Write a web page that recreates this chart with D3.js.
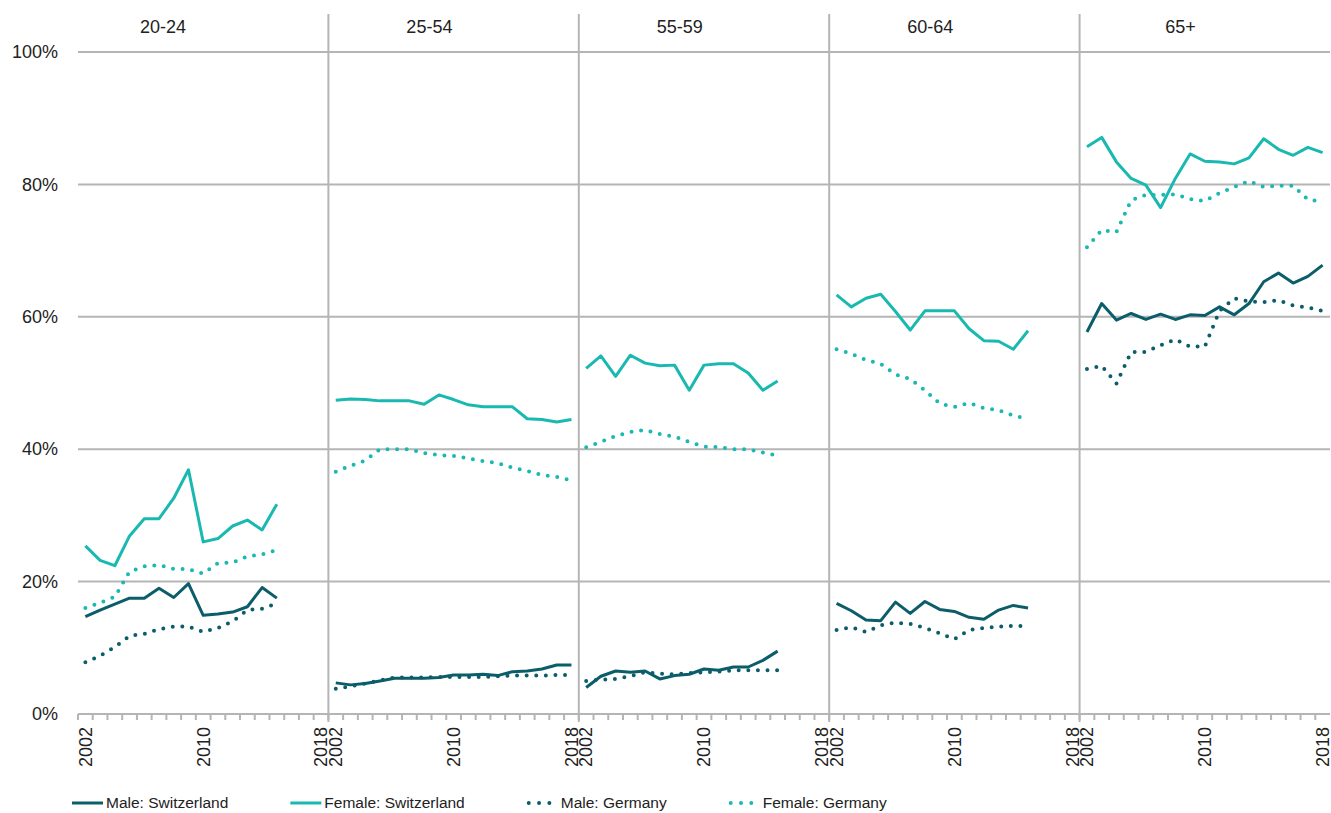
<!DOCTYPE html>
<html>
<head>
<meta charset="utf-8">
<script src="https://cdn.jsdelivr.net/npm/d3@7"></script>
<style>
  html, body { margin: 0; padding: 0; background: #fff; }
  svg { display: block; font-family: "Liberation Sans", Arial, sans-serif; }
</style>
</head>
<body>
<svg id="chart" width="1331" height="813"></svg>
<script>
// ---------- DATA ----------
const groups = ["20-24", "25-54", "55-59", "60-64", "65+"];
const years = d3.range(2002, 2019).map(String);
const yearLabels = ["2002", "2010", "2018"];
const yTicks = [0, 20, 40, 60, 80, 100];
const seriesNames = ["Male: Switzerland", "Female: Switzerland", "Male: Germany", "Female: Germany"];

// values in %, starting at 2002, one array per group
const maleCH = [
  [14.7, 15.7, 16.6, 17.5, 17.5, 19.0, 17.6, 19.7, 14.9, 15.1, 15.4, 16.2, 19.1, 17.5],
  [4.7, 4.4, 4.6, 5.0, 5.4, 5.4, 5.4, 5.5, 5.9, 5.9, 6.0, 5.8, 6.4, 6.5, 6.8, 7.4, 7.4],
  [4.0, 5.7, 6.5, 6.3, 6.5, 5.3, 5.8, 6.0, 6.8, 6.6, 7.1, 7.1, 8.1, 9.5],
  [16.7, 15.6, 14.2, 14.1, 16.9, 15.2, 17.0, 15.8, 15.5, 14.6, 14.3, 15.7, 16.4, 16.0],
  [57.7, 62.0, 59.5, 60.5, 59.6, 60.4, 59.6, 60.3, 60.2, 61.5, 60.3, 62.0, 65.3, 66.6, 65.1, 66.1, 67.8]
];
const femaleCH = [
  [25.4, 23.2, 22.4, 26.9, 29.5, 29.5, 32.6, 36.9, 26.0, 26.5, 28.4, 29.3, 27.8, 31.7],
  [47.4, 47.6, 47.5, 47.3, 47.3, 47.3, 46.8, 48.2, 47.5, 46.7, 46.4, 46.4, 46.4, 44.6, 44.5, 44.1, 44.5],
  [52.2, 54.1, 51.0, 54.2, 53.0, 52.6, 52.7, 48.9, 52.7, 52.9, 52.9, 51.5, 48.9, 50.3],
  [63.3, 61.5, 62.8, 63.4, 60.8, 58.0, 60.9, 60.9, 60.9, 58.2, 56.4, 56.3, 55.1, 57.9],
  [85.7, 87.1, 83.4, 80.9, 79.9, 76.5, 80.9, 84.6, 83.5, 83.4, 83.1, 84.0, 86.9, 85.3, 84.4, 85.6, 84.8]
];
const maleDE = [
  [7.8, 8.8, 10.1, 11.8, 12.1, 12.8, 13.2, 13.2, 12.4, 13.0, 14.0, 15.7, 15.9, 16.7],
  [3.8, 4.2, 4.6, 5.1, 5.5, 5.5, 5.5, 5.6, 5.6, 5.6, 5.6, 5.7, 5.8, 5.8, 5.8, 5.9, 5.9],
  [5.0, 5.2, 5.3, 5.7, 6.3, 6.1, 6.0, 6.2, 6.3, 6.4, 6.6, 6.6, 6.6, 6.6],
  [12.7, 13.1, 12.4, 13.4, 13.8, 13.6, 13.0, 12.2, 11.3, 12.7, 13.0, 13.2, 13.3, 13.3],
  [52.1, 52.6, 49.9, 54.7, 54.7, 55.7, 56.6, 55.5, 55.5, 60.9, 62.8, 62.3, 62.2, 62.5, 61.7, 61.4, 60.9]
];
const femaleDE = [
  [16.0, 16.8, 17.7, 21.5, 22.3, 22.5, 21.9, 21.9, 21.2, 22.8, 22.9, 23.8, 24.1, 24.8],
  [36.6, 37.5, 38.3, 40.0, 40.0, 40.0, 39.4, 39.1, 39.0, 38.6, 38.2, 37.9, 37.2, 36.7, 36.1, 35.8, 35.3],
  [40.3, 41.1, 42.0, 42.6, 42.9, 42.3, 41.9, 41.1, 40.4, 40.3, 40.0, 40.0, 39.5, 39.0],
  [55.1, 54.4, 53.5, 52.9, 51.3, 50.6, 48.9, 46.9, 46.4, 47.0, 46.2, 45.9, 45.1, 44.6],
  [70.5, 73.1, 72.8, 77.6, 78.4, 78.4, 78.5, 77.8, 77.5, 78.7, 79.6, 80.5, 79.6, 79.8, 79.8, 77.7, 77.4]
];
const seriesValues = [maleCH, femaleCH, maleDE, femaleDE];

// ---------- STYLE / LAYOUT ----------
const colors = ["#0b5e69", "#19b9b1", "#0b5e69", "#19b9b1"];
const dotted = [false, false, true, true];
const gridColor = "#b5b5b5";
const textColor = "#222";
const titleOffset = [85, 101, 101, 101, 101];

const svg = d3.select("#chart");
const plotLeft = 78, plotRight = 1330, plotTop = 52, plotBottom = 714;

const xGroup = d3.scaleBand().domain(groups).range([plotLeft, plotRight]).padding(0);
const xYear = d3.scaleBand().domain(years).range([0, xGroup.bandwidth()]).padding(0);
const y = d3.scaleLinear().domain([0, 100]).range([plotBottom, plotTop]);

// horizontal grid lines + y labels
const yAxis = d3.axisLeft(y).tickValues(yTicks).tickSize(0).tickPadding(20)
  .tickFormat(d => d + "%");
const gy = svg.append("g").attr("transform", `translate(${plotLeft},0)`).call(yAxis);
gy.select(".domain").remove();
gy.selectAll("text").attr("font-size", 18).attr("fill", textColor)
  .attr("font-family", "'Liberation Sans', Arial, sans-serif");

svg.append("g").selectAll("line").data(yTicks).join("line")
  .attr("x1", plotLeft).attr("x2", plotRight)
  .attr("y1", d => y(d)).attr("y2", d => y(d))
  .attr("stroke", gridColor).attr("stroke-width", 2);

// vertical separators
svg.append("g").selectAll("line").data(groups.slice(1)).join("line")
  .attr("x1", d => xGroup(d)).attr("x2", d => xGroup(d))
  .attr("y1", 14).attr("y2", 722)
  .attr("stroke", gridColor).attr("stroke-width", 2);

// per-panel x axes
groups.forEach((g, gi) => {
  const left = xGroup(g);
  const panel = svg.append("g").attr("transform", `translate(${left},0)`);
  // tick marks at band boundaries
  panel.append("g").selectAll("line").data(years).join("line")
    .attr("x1", d => xYear(d)).attr("x2", d => xYear(d))
    .attr("y1", plotBottom).attr("y2", plotBottom + 6)
    .attr("stroke", gridColor).attr("stroke-width", 2);
  // year labels
  panel.append("g").selectAll("text").data(yearLabels).join("text")
    .attr("transform", d => `translate(${xYear(d) + xYear.bandwidth() / 2},${plotBottom + 13}) rotate(-90)`)
    .attr("text-anchor", "end")
    .attr("dy", "0.35em")
    .attr("font-size", 18)
    .attr("fill", textColor)
    .text(d => d);
  // panel title
  panel.append("text")
    .attr("x", titleOffset[gi]).attr("y", 27).attr("dy", "0.35em")
    .attr("text-anchor", "middle").attr("font-size", 18).attr("fill", textColor)
    .text(g);
  // lines
  seriesValues.forEach((vals, si) => {
    const data = vals[gi].map((v, i) => ({ year: years[i], v }));
    const line = d3.line()
      .x(d => xYear(d.year) + xYear.bandwidth() / 2)
      .y(d => y(d.v));
    const p = panel.append("path").datum(data)
      .attr("d", line)
      .attr("fill", "none")
      .attr("stroke", colors[si]);
    if (dotted[si]) {
      p.attr("stroke-width", 4).attr("stroke-linecap", "round").attr("stroke-dasharray", "0 9.6");
    } else {
      p.attr("stroke-width", 3).attr("stroke-linejoin", "round");
    }
  });
});

// legend
const legend = svg.append("g").attr("transform", "translate(72,803)");
let lx = 0;
seriesNames.forEach((name, si) => {
  const item = legend.append("g").attr("transform", `translate(${lx},0)`);
  const l = item.append("line").attr("x1", 0).attr("x2", 31).attr("y1", 0).attr("y2", 0)
    .attr("stroke", colors[si]);
  if (dotted[si]) {
    l.attr("x1", 2).attr("stroke-width", 4).attr("stroke-linecap", "round").attr("stroke-dasharray", "0 10.3");
  } else {
    l.attr("stroke-width", 3);
  }
  const t = item.append("text").attr("x", 34).attr("dy", "0.35em")
    .attr("font-size", 15.5).attr("fill", textColor).text(name);
  lx += 34 + t.node().getComputedTextLength() + 62;
});
</script>
</body>
</html>
